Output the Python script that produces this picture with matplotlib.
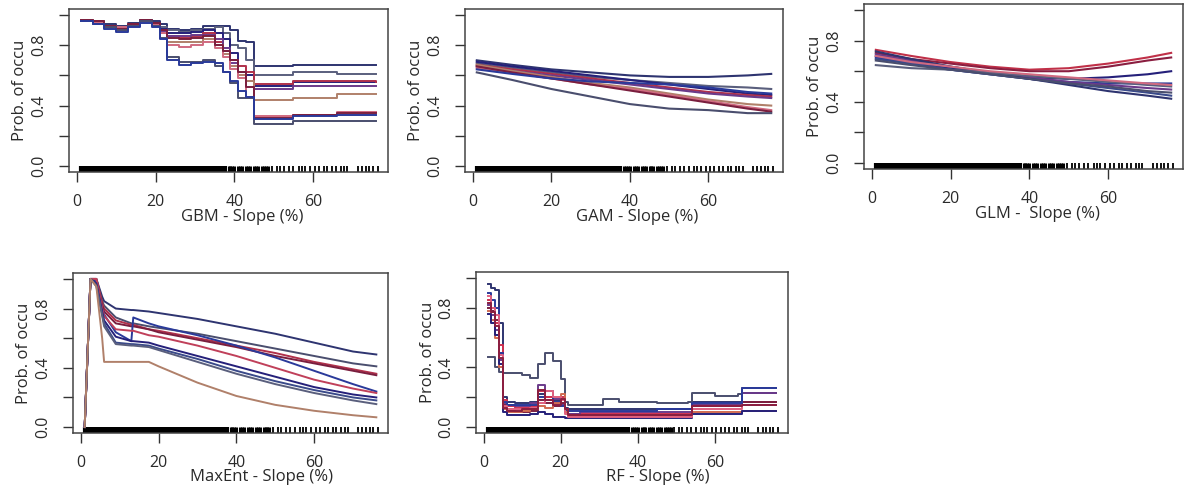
import matplotlib
matplotlib.use("Agg")
import matplotlib.pyplot as plt

plt.rcParams['font.family'] = ['Open Sans', 'DejaVu Sans']

# colours of the 10 model runs (red -> blue ramp)
cols = ['#2e3470', '#5a5f7d', '#25207a', '#b0304a', '#6a3a8a',
        '#b0806a', '#d06a80', '#7a1e3e', '#4a4e6e', '#2a3a9a']

# observed slope values (rug)
rug_dense = [1, 2, 3, 4, 5, 6, 7, 8, 9, 10, 11, 12, 13, 14, 15, 16, 17, 18, 19,
             20, 21, 22, 23, 24, 25, 26, 27, 28, 29, 30, 31, 32, 33, 34, 35, 36, 37, 37.5]
rug_block = [38.5, 39, 39.5, 40, 41, 41.5, 42, 43, 43.5, 44, 45, 45.5, 46,
             47, 47.5, 48, 48.5]
rug_single = [49.5, 50.8, 51.6, 52.7, 53.9, 55.0, 56.3, 57.2, 58.0, 59.3, 60.4,
              61.5, 62.7, 63.6, 64.9, 65.7, 67.0, 67.9, 68.7, 71.3, 72.4, 73.4,
              74.3, 75.1, 76.4]

# GBM (step curves)
gbm_x = [1, 4, 7, 10, 13, 16, 19, 21, 23, 26, 29, 32, 35, 37, 39, 41, 43, 45, 52, 55, 66, 76]
gbm_y = [
    [0.97, 0.96, 0.94, 0.93, 0.95, 0.97, 0.96, 0.94, 0.91, 0.90, 0.91, 0.93, 0.93, 0.93, 0.90, 0.83, 0.82, 0.66, 0.66, 0.67, 0.67, 0.67],
    [0.97, 0.95, 0.93, 0.92, 0.94, 0.97, 0.95, 0.92, 0.90, 0.89, 0.90, 0.91, 0.92, 0.88, 0.80, 0.78, 0.70, 0.60, 0.60, 0.62, 0.61, 0.61],
    [0.96, 0.95, 0.93, 0.91, 0.94, 0.96, 0.95, 0.91, 0.88, 0.88, 0.89, 0.90, 0.88, 0.84, 0.75, 0.62, 0.60, 0.53, 0.53, 0.555, 0.555, 0.555],
    [0.97, 0.95, 0.92, 0.91, 0.94, 0.96, 0.94, 0.90, 0.86, 0.85, 0.86, 0.88, 0.82, 0.76, 0.70, 0.66, 0.62, 0.54, 0.54, 0.56, 0.56, 0.555],
    [0.96, 0.94, 0.92, 0.90, 0.93, 0.96, 0.94, 0.89, 0.86, 0.86, 0.87, 0.87, 0.84, 0.78, 0.68, 0.62, 0.56, 0.51, 0.51, 0.53, 0.53, 0.53],
    [0.97, 0.95, 0.92, 0.91, 0.93, 0.96, 0.94, 0.88, 0.82, 0.82, 0.82, 0.84, 0.80, 0.74, 0.66, 0.60, 0.56, 0.44, 0.44, 0.45, 0.48, 0.48],
    [0.97, 0.95, 0.93, 0.92, 0.94, 0.96, 0.94, 0.88, 0.80, 0.79, 0.80, 0.82, 0.78, 0.72, 0.64, 0.58, 0.46, 0.33, 0.33, 0.34, 0.36, 0.36],
    [0.97, 0.96, 0.93, 0.91, 0.94, 0.97, 0.95, 0.90, 0.85, 0.84, 0.85, 0.86, 0.80, 0.76, 0.70, 0.62, 0.52, 0.32, 0.32, 0.34, 0.35, 0.35],
    [0.96, 0.94, 0.92, 0.90, 0.93, 0.96, 0.93, 0.85, 0.72, 0.69, 0.69, 0.70, 0.66, 0.62, 0.55, 0.45, 0.45, 0.28, 0.28, 0.30, 0.30, 0.30],
    [0.96, 0.94, 0.91, 0.89, 0.92, 0.95, 0.92, 0.84, 0.70, 0.67, 0.68, 0.69, 0.68, 0.62, 0.56, 0.50, 0.46, 0.31, 0.31, 0.33, 0.34, 0.34],
]

# GAM
gam_x = [1, 10, 20, 30, 40, 50, 60, 70, 76]
gam_y = [
    [0.70, 0.67, 0.64, 0.62, 0.60, 0.59, 0.59, 0.60, 0.61],
    [0.68, 0.65, 0.62, 0.59, 0.57, 0.55, 0.53, 0.52, 0.51],
    [0.69, 0.66, 0.63, 0.60, 0.57, 0.54, 0.51, 0.48, 0.47],
    [0.67, 0.64, 0.61, 0.58, 0.55, 0.52, 0.49, 0.47, 0.46],
    [0.66, 0.63, 0.60, 0.57, 0.54, 0.51, 0.48, 0.46, 0.45],
    [0.67, 0.63, 0.59, 0.55, 0.52, 0.48, 0.44, 0.41, 0.40],
    [0.65, 0.62, 0.58, 0.54, 0.51, 0.47, 0.43, 0.39, 0.37],
    [0.66, 0.62, 0.58, 0.54, 0.50, 0.46, 0.42, 0.38, 0.36],
    [0.62, 0.57, 0.51, 0.46, 0.41, 0.38, 0.37, 0.35, 0.35],
    [0.64, 0.61, 0.58, 0.56, 0.55, 0.54, 0.52, 0.49, 0.48],
]

# GLM
glm_x = [1, 10, 20, 30, 40, 50, 60, 70, 76]
glm_y = [
    [0.74, 0.70, 0.66, 0.63, 0.61, 0.62, 0.65, 0.69, 0.72],
    [0.72, 0.68, 0.65, 0.62, 0.60, 0.60, 0.63, 0.67, 0.69],
    [0.70, 0.66, 0.62, 0.59, 0.56, 0.55, 0.56, 0.58, 0.60],
    [0.69, 0.65, 0.61, 0.58, 0.55, 0.53, 0.52, 0.52, 0.52],
    [0.71, 0.67, 0.63, 0.59, 0.56, 0.53, 0.51, 0.49, 0.48],
    [0.68, 0.65, 0.61, 0.58, 0.55, 0.52, 0.49, 0.46, 0.44],
    [0.73, 0.68, 0.63, 0.59, 0.55, 0.51, 0.47, 0.44, 0.42],
    [0.64, 0.62, 0.61, 0.59, 0.57, 0.55, 0.53, 0.51, 0.50],
    [0.70, 0.66, 0.63, 0.60, 0.58, 0.56, 0.54, 0.52, 0.51],
    [0.67, 0.64, 0.61, 0.58, 0.55, 0.52, 0.50, 0.47, 0.46],
]
glm_cols = ['#c03048', '#8a1e40', '#25207a', '#2a3a9a', '#6a3a8a',
            '#3a4a8a', '#2e3470', '#5a5f7d', '#d06a80', '#4a4e6e']

# MaxEnt
mx_x = [1, 2.5, 4, 5.5, 6, 9, 13, 13.5, 17.5, 20, 30, 40, 50, 60, 70, 76]
mx_y = [
    [0.0, 1.0, 1.0, 0.88, 0.85, 0.80, 0.79, 0.79, 0.78, 0.77, 0.73, 0.68, 0.63, 0.57, 0.51, 0.49],
    [0.0, 1.0, 1.0, 0.85, 0.82, 0.74, 0.70, 0.70, 0.68, 0.67, 0.63, 0.58, 0.53, 0.48, 0.43, 0.41],
    [0.0, 1.0, 1.0, 0.84, 0.80, 0.72, 0.69, 0.69, 0.66, 0.65, 0.60, 0.55, 0.50, 0.44, 0.39, 0.36],
    [0.0, 1.0, 0.98, 0.82, 0.78, 0.70, 0.68, 0.68, 0.66, 0.64, 0.59, 0.54, 0.48, 0.43, 0.38, 0.35],
    [0.0, 1.0, 0.98, 0.80, 0.76, 0.64, 0.58, 0.74, 0.70, 0.68, 0.62, 0.55, 0.47, 0.38, 0.29, 0.24],
    [0.0, 1.0, 1.0, 0.80, 0.75, 0.66, 0.65, 0.65, 0.62, 0.61, 0.55, 0.48, 0.40, 0.32, 0.26, 0.23],
    [0.0, 1.0, 0.97, 0.78, 0.72, 0.61, 0.58, 0.58, 0.57, 0.55, 0.48, 0.41, 0.34, 0.27, 0.22, 0.20],
    [0.0, 1.0, 0.96, 0.76, 0.70, 0.57, 0.56, 0.56, 0.55, 0.53, 0.46, 0.38, 0.31, 0.25, 0.20, 0.18],
    [0.0, 1.0, 0.95, 0.75, 0.68, 0.56, 0.55, 0.55, 0.54, 0.52, 0.44, 0.36, 0.29, 0.23, 0.18, 0.155],
    [0.0, 1.0, 0.95, 0.60, 0.44, 0.44, 0.44, 0.44, 0.44, 0.41, 0.30, 0.21, 0.15, 0.11, 0.08, 0.066],
]
mx_cols = ['#2e3470', '#4a4e6e', '#b0304a', '#7a1e3e', '#2a3a9a',
           '#c0405a', '#25207a', '#3a4a8a', '#5a5f7d', '#b0806a']

# RF
rf_x = [1, 2, 3, 4, 5, 6, 8, 10, 12, 14, 16, 18, 20, 21, 22, 25, 30, 31, 35, 45, 53, 54, 60, 66, 67, 76]
rf_y = [
    [0.96, 0.93, 0.92, 0.70, 0.20, 0.17, 0.16, 0.16, 0.17, 0.22, 0.20, 0.18, 0.15, 0.13, 0.12, 0.12, 0.12, 0.12, 0.12, 0.12, 0.12, 0.17, 0.17, 0.17, 0.23, 0.23],
    [0.47, 0.47, 0.40, 0.37, 0.36, 0.36, 0.36, 0.35, 0.33, 0.42, 0.50, 0.44, 0.32, 0.17, 0.15, 0.15, 0.15, 0.19, 0.17, 0.16, 0.17, 0.23, 0.21, 0.22, 0.26, 0.26],
    [0.85, 0.80, 0.70, 0.55, 0.18, 0.14, 0.13, 0.13, 0.14, 0.24, 0.20, 0.17, 0.20, 0.12, 0.09, 0.09, 0.09, 0.09, 0.09, 0.09, 0.09, 0.14, 0.14, 0.14, 0.17, 0.17],
    [0.80, 0.78, 0.72, 0.50, 0.15, 0.11, 0.10, 0.10, 0.11, 0.18, 0.16, 0.14, 0.16, 0.10, 0.08, 0.08, 0.08, 0.08, 0.08, 0.08, 0.08, 0.15, 0.15, 0.15, 0.17, 0.17],
    [0.82, 0.75, 0.65, 0.45, 0.16, 0.15, 0.14, 0.14, 0.16, 0.28, 0.18, 0.19, 0.15, 0.10, 0.09, 0.10, 0.10, 0.10, 0.10, 0.10, 0.10, 0.15, 0.15, 0.15, 0.23, 0.23],
    [0.90, 0.85, 0.80, 0.50, 0.17, 0.15, 0.15, 0.15, 0.15, 0.20, 0.24, 0.17, 0.14, 0.11, 0.11, 0.11, 0.11, 0.11, 0.11, 0.12, 0.12, 0.16, 0.16, 0.16, 0.26, 0.26],
    [0.78, 0.72, 0.60, 0.40, 0.12, 0.10, 0.10, 0.11, 0.12, 0.14, 0.13, 0.16, 0.22, 0.10, 0.07, 0.07, 0.07, 0.07, 0.07, 0.07, 0.07, 0.10, 0.10, 0.10, 0.11, 0.11],
    [0.76, 0.70, 0.62, 0.42, 0.10, 0.08, 0.08, 0.08, 0.09, 0.10, 0.09, 0.07, 0.07, 0.06, 0.06, 0.06, 0.06, 0.06, 0.06, 0.06, 0.06, 0.09, 0.09, 0.09, 0.11, 0.11],
    [0.88, 0.80, 0.75, 0.48, 0.14, 0.12, 0.12, 0.12, 0.13, 0.16, 0.24, 0.20, 0.18, 0.09, 0.07, 0.07, 0.07, 0.07, 0.07, 0.07, 0.07, 0.12, 0.12, 0.12, 0.15, 0.15],
    [0.83, 0.77, 0.68, 0.46, 0.13, 0.11, 0.11, 0.12, 0.12, 0.25, 0.18, 0.15, 0.19, 0.12, 0.08, 0.08, 0.08, 0.08, 0.08, 0.08, 0.08, 0.14, 0.14, 0.14, 0.15, 0.15],
]
rf_cols = ['#2e3470', '#4a4e6e', '#d03050', '#7a1e3e', '#6a3a8a',
           '#2a3a9a', '#d06a50', '#25207a', '#e06080', '#8a1e40']

panels = [
    # name, box in pixels (left, top, right, bottom), label x offset
    ("GBM - Slope (%)",    (69, 9, 388, 172),   0.542),
    ("GAM - Slope (%)",    (465, 9, 783, 172),  0.541),
    ("GLM -  Slope (%)",   (864, 4, 1183, 169), 0.545),
    ("MaxEnt - Slope (%)", (73, 273, 388, 433), 0.597),
    ("RF - Slope (%)",     (476, 272, 788, 433), 0.583),
]

W, H = 1195, 497
fig = plt.figure(figsize=(W / 100, H / 100), dpi=100)
txt = '#2a2a2a'

axes = []
for name, (l, t, r, b), lx in panels:
    ax = fig.add_axes([l / W, (H - b) / H, (r - l) / W, (b - t) / H])
    ax.set_xlim(-2, 79)
    ax.set_ylim(-0.04, 1.04)
    ax.set_xticks([0, 20, 40, 60])
    ax.set_yticks([0, 0.2, 0.4, 0.6, 0.8, 1.0])
    ax.set_yticklabels(['0.0', '', '0.4', '', '0.8', ''])
    ax.tick_params(length=7.5, width=1, color='#333333', labelsize=11.5,
                   labelcolor=txt, pad=8)
    ax.tick_params(axis='y', labelrotation=90)
    for lab in ax.get_yticklabels():
        lab.set_va('center')
    for s in ax.spines.values():
        s.set_color('#444444')
        s.set_linewidth(1.1)
    ax.text(lx, -0.275, name, transform=ax.transAxes, ha='center', va='center',
            fontsize=12, color=txt)
    ax.text(-0.155, 0.5, 'Prob. of occu', transform=ax.transAxes, rotation=90,
            ha='center', va='center', fontsize=12, color=txt)
    ax.vlines(rug_dense, -0.04, 0.0, color='black', lw=3)
    ax.vlines(rug_block, -0.04, 0.0, color='black', lw=2.2)
    ax.vlines(rug_single, -0.04, 0.0, color='black', lw=1.3)
    axes.append(ax)

for yv, c in zip(gbm_y, cols):
    axes[0].plot(gbm_x, yv, color=c, lw=1.4, drawstyle='steps-post')
for yv, c in zip(gam_y, cols):
    axes[1].plot(gam_x, yv, color=c, lw=1.5)
for yv, c in zip(glm_y, glm_cols):
    axes[2].plot(glm_x, yv, color=c, lw=1.5)
for yv, c in zip(mx_y, mx_cols):
    axes[3].plot(mx_x, yv, color=c, lw=1.4)
for yv, c in zip(rf_y, rf_cols):
    axes[4].plot(rf_x, yv, color=c, lw=1.4, drawstyle='steps-post')

fig.savefig('out.png', dpi=100)
